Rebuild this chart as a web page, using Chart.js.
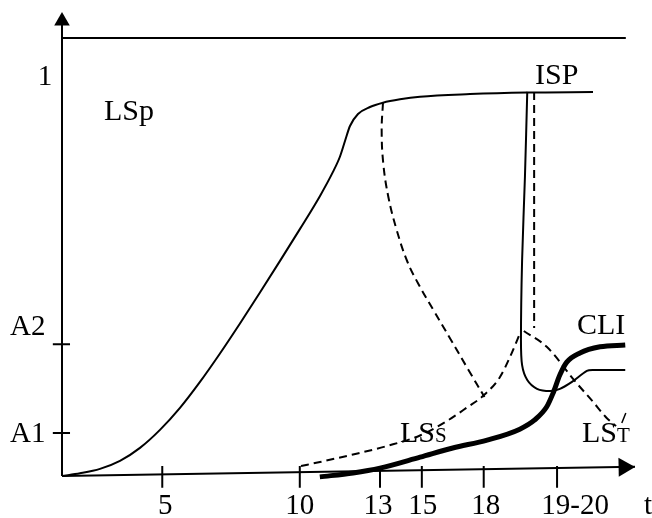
<!DOCTYPE html>
<html><head><meta charset="utf-8">
<script src="https://cdn.jsdelivr.net/npm/chart.js@4.4.1/dist/chart.umd.min.js"></script>
<style>html,body{margin:0;padding:0;background:#fff}canvas{display:block}</style>
</head><body>
<canvas id="c" width="652" height="518"></canvas>
<script>
// ---- data (t-position units 0..100 along the axis, level units 0..100 up to the top line) ----
const tickValues = [17.5, 41.5, 55.5, 62.8, 73.6, 86.4];
const tickLabels = ['5', '10', '13', '15', '18', '19-20'];
const levelValues = [9.8, 30.1];
const levelLabels = ['A1', 'A2'];

const lspT = [0, 3.14, 6.63, 10.12, 13.61, 17.10, 20.59, 24.08, 27.57, 31.06, 34.55, 38.05, 41.54, 45.03, 47.29, 48.52, 49.39, 50.26, 51.66, 53.75, 56.02, 58.99, 62.48, 71.2, 81.15, 92.67];
const lspV = [0, 0.62, 1.62, 3.45, 6.42, 10.53, 15.55, 21.48, 27.97, 34.82, 41.89, 49.11, 56.42, 63.95, 69.43, 72.95, 76.48, 79.91, 82.65, 84.25, 85.23, 86.0, 86.6, 87.2, 87.56, 87.67];

const ispT = [81.2, 80.8, 80.3, 80.1, 80.3, 81.2, 82.9, 85.2, 86.9, 89.0, 91.6, 92.7, 98.3];
const ispV = [87.7, 68.5, 49.3, 31.1, 25.3, 21.9, 19.9, 19.4, 19.9, 21.5, 24.0, 24.2, 24.2];

const lspDownT = [56.02, 55.79, 56.07, 56.95, 58.41, 60.30, 62.30, 64.92, 67.89, 70.94, 73.73];
const lspDownV = [85.23, 79.0, 71.39, 63.77, 56.16, 48.86, 43.61, 37.67, 31.05, 24.20, 18.04];

const lssT = [41.71, 45.03, 50.79, 56.72, 62.48, 67.19, 70.68, 73.47, 76.44, 78.18, 80.1];
const lssV = [2.28, 3.20, 4.91, 6.85, 9.25, 12.56, 15.64, 18.26, 22.6, 27.17, 33.1];

const lstT = [80.6, 84.6, 89.5, 92.7, 95.1, 96.7];
const lstV = [33.1, 29.5, 21.7, 16.9, 13.2, 11.4];
const lstEndT = [97.7, 98.4];
const lstEndV = [12.1, 14.4];

const ispDashT = [82.4, 82.4];
const ispDashV = [87.7, 33.8];

const cliT = [45.0, 50.8, 55.5, 62.5, 68.2, 74.2, 79.9, 82.5, 84.6, 85.7, 86.9, 88.1, 90.4, 93.9, 98.3];
const cliV = [-0.2, 0.7, 1.8, 4.3, 6.4, 8.2, 10.7, 12.8, 15.8, 18.9, 23.1, 26.0, 28.1, 29.5, 29.9];

const topLineT = [0, 98.4];
const topLineV = [100, 100];
const xAxisT = [0, 100];
const xAxisV = [0, 2.1];
const yAxisT = [0, 0];
const yAxisV = [0, 103];

// ---- helpers ----
const zip = (xs, ys) => xs.map((x, i) => ({x: x, y: ys[i]}));
const FONT = '"Liberation Serif", "Times New Roman", serif';

const xTickMarks = [];
tickValues.forEach(v => { xTickMarks.push({x: v, y: 2.3}, {x: v, y: -2.7}, {x: v, y: null}); });
const yTickMarks = [];
levelValues.forEach(v => { yTickMarks.push({x: -1.6, y: v}, {x: 1.4, y: v}, {x: null, y: null}); });

function line(data, opts) {
  return Object.assign({
    data: data, borderColor: '#000', borderWidth: 2, pointRadius: 0,
    fill: false, tension: 0, spanGaps: false, clip: false
  }, opts || {});
}
const MONO = {cubicInterpolationMode: 'monotone'};

const textPlugin = {
  id: 'texts',
  afterDatasetsDraw(chart) {
    const ctx = chart.ctx, xs = chart.scales.x, ys = chart.scales.y;
    const px = v => xs.getPixelForValue(v), py = v => ys.getPixelForValue(v);
    ctx.save();
    ctx.fillStyle = '#000';
    ctx.textBaseline = 'alphabetic';
    ctx.font = '29px ' + FONT;
    // x tick labels
    const nudges = [3, 0, -2, 1, 2, 18];
    ctx.textAlign = 'center';
    tickValues.forEach((v, i) => ctx.fillText(tickLabels[i], px(v) + nudges[i], 514));
    ctx.textAlign = 'left';
    ctx.fillText('t', 644, 514);
    // y labels
    const yOff = [9, -9];
    levelValues.forEach((v, i) => ctx.fillText(levelLabels[i], 10, py(v) + yOff[i]));
    ctx.textAlign = 'center';
    ctx.fillText('1', 45, 85);
    // curve labels
    ctx.textAlign = 'left';
    ctx.font = '30px ' + FONT;
    ctx.fillText('LSp', 104, 120);
    ctx.fillText('ISP', 535, 84);
    ctx.fillText('CLI', 577, 334);
    const sub = (big, small, x, y) => {
      ctx.font = '30px ' + FONT;
      ctx.fillText(big, x, y);
      const w = ctx.measureText(big).width;
      ctx.font = '21px ' + FONT;
      ctx.fillText(small, x + w, y);
    };
    sub('LS', 'S', 400, 442);
    sub('LS', 'T', 582, 442);
    ctx.restore();
  }
};

new Chart(document.getElementById('c'), {
  type: 'line',
  data: {
    datasets: [
      line(zip(topLineT, topLineV)),
      line(zip(yAxisT, yAxisV)),
      line(zip(xAxisT, xAxisV)),
      line(xTickMarks),
      line(yTickMarks),
      line([{x: 0, y: 103.9}], {pointRadius: 9, pointStyle: 'triangle', pointBackgroundColor: '#000', pointBorderWidth: 0, showLine: false}),
      line([{x: 98.1, y: 2.0}], {pointRadius: 11, pointStyle: 'triangle', pointRotation: 89, pointBackgroundColor: '#000', pointBorderWidth: 0, showLine: false}),
      line(zip(lspT, lspV), MONO),
      line(zip(ispT, ispV), {tension: 0.3}),
      line(zip(lspDownT, lspDownV), {borderDash: [8, 5], tension: 0.4}),
      line(zip(lssT, lssV), Object.assign({borderDash: [8, 5]}, MONO)),
      line(zip(lstT, lstV), Object.assign({borderDash: [8, 5]}, MONO)),
      line(zip(lstEndT, lstEndV), {borderWidth: 1.5}),
      line(zip(ispDashT, ispDashV), {borderDash: [8, 5]}),
      line(zip(cliT, cliV), Object.assign({borderWidth: 5}, MONO))
    ]
  },
  options: {
    responsive: false,
    animation: false,
    devicePixelRatio: 1,
    layout: {padding: 0, autoPadding: false},
    plugins: {legend: {display: false}, tooltip: {enabled: false}},
    scales: {
      x: {type: 'linear', min: -10.82, max: 102.97, display: false},
      y: {type: 'linear', min: -9.59, max: 108.68, display: false}
    }
  },
  plugins: [textPlugin]
});
</script>
</body></html>
